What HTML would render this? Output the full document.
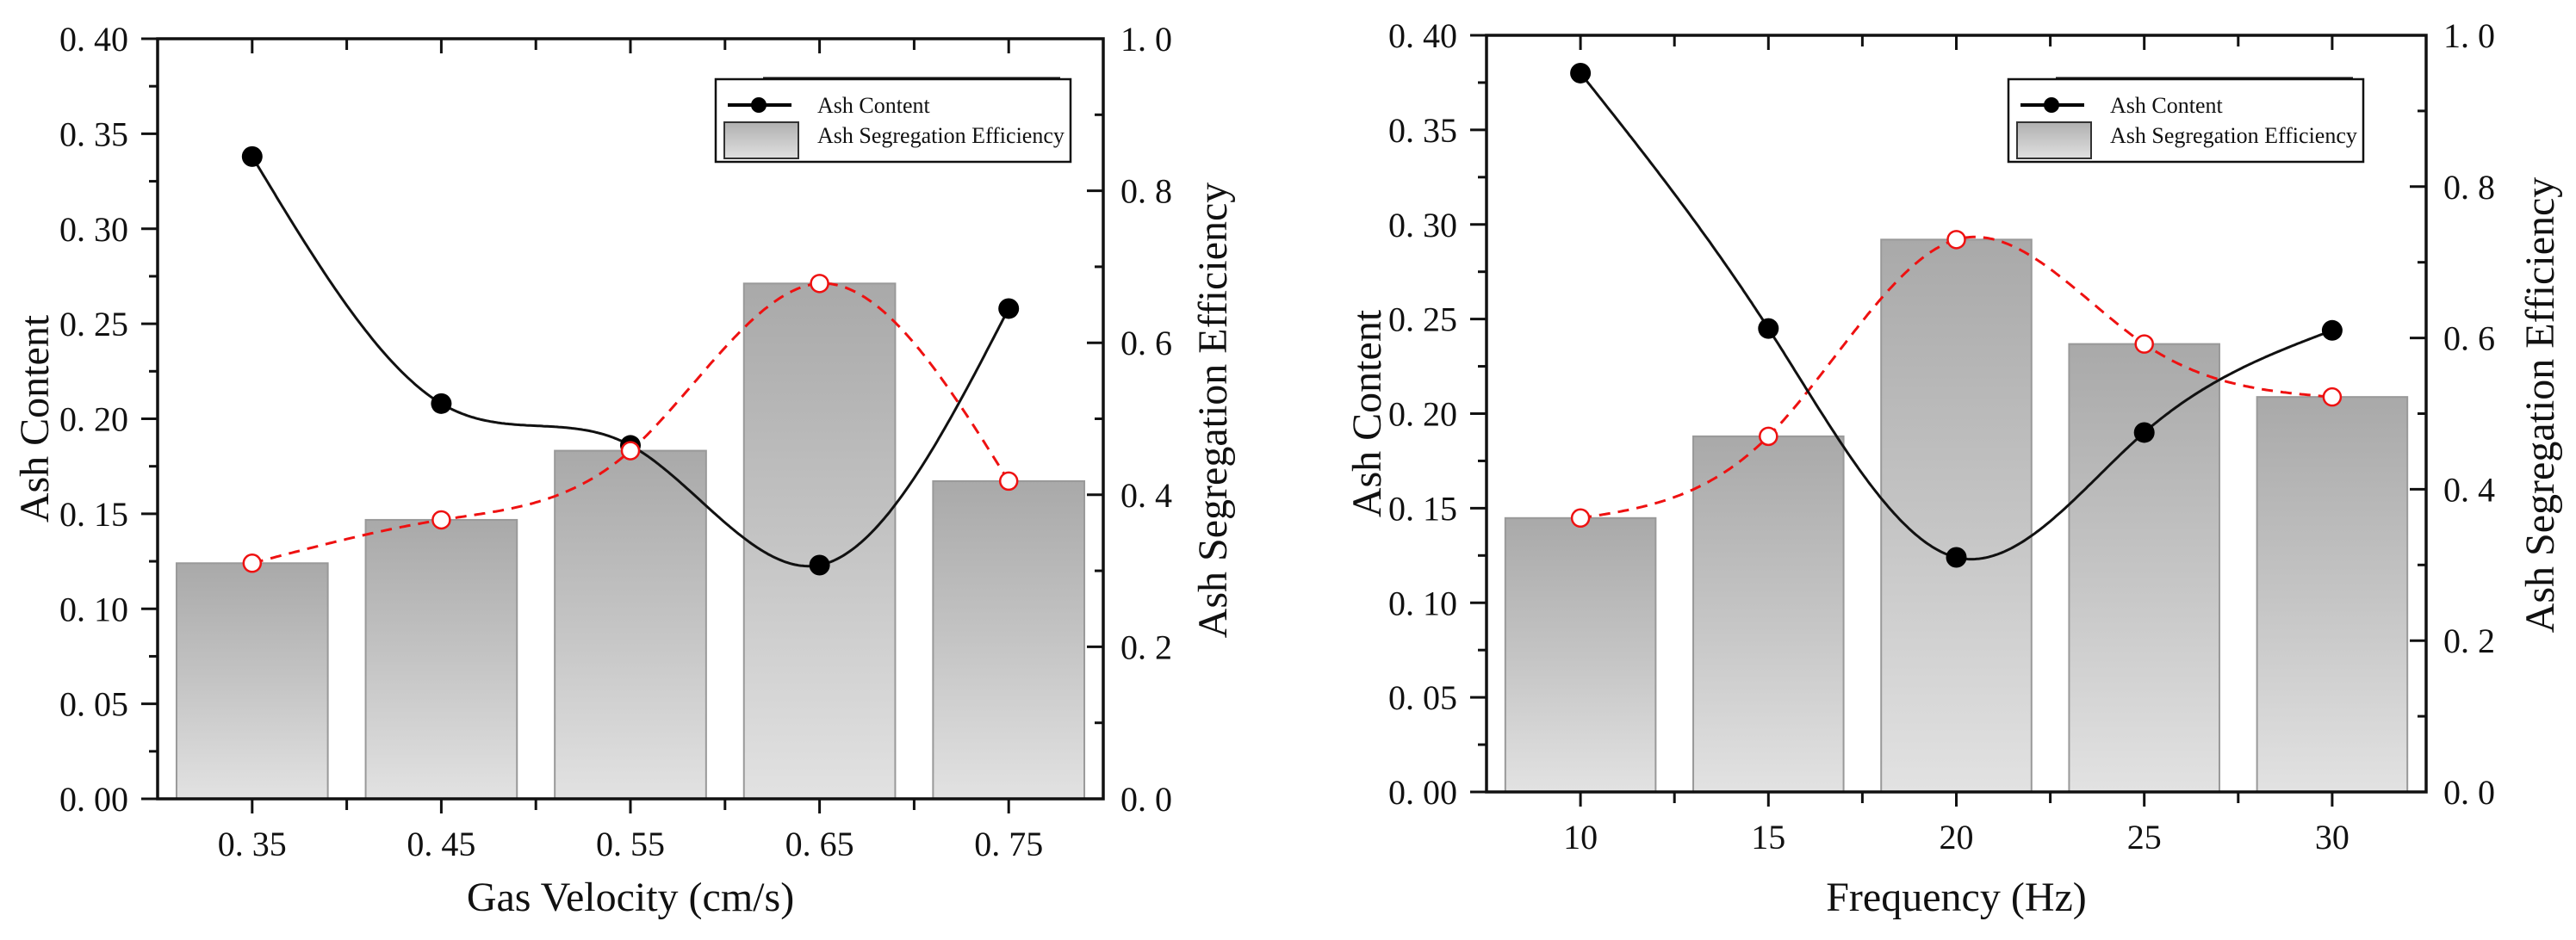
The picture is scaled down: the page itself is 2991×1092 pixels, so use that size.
<!DOCTYPE html>
<html><head><meta charset="utf-8">
<style>
html,body{margin:0;padding:0;background:#fff;}
svg{display:block;}
text{font-family:"Liberation Serif","Noto Serif CJK SC",serif;fill:#111;}
</style></head>
<body>
<svg id="chart" width="2991" height="1092" viewBox="0 0 2991 1092" xmlns="http://www.w3.org/2000/svg">
<defs>
<linearGradient id="barGrad" x1="0" y1="0" x2="0" y2="1">
<stop offset="0" stop-color="#a9a9a9"/><stop offset="0.5" stop-color="#c4c4c4"/><stop offset="1" stop-color="#e2e2e2"/>
</linearGradient>
<linearGradient id="legGrad" x1="0" y1="0" x2="0" y2="1">
<stop offset="0" stop-color="#b0b0b0"/><stop offset="1" stop-color="#e0e0e0"/>
</linearGradient>
</defs>
</svg>
<script>
// Left chart data
const velCategories = ["0. 35","0. 45","0. 55","0. 65","0. 75"];
const velAsh = [0.338, 0.208, 0.186, 0.123, 0.258];
const velEff = [0.31, 0.367, 0.458, 0.678, 0.418];
// Right chart data
const freqCategories = ["10","15","20","25","30"];
const freqAsh = [0.380, 0.245, 0.124, 0.190, 0.244];
const freqEff = [0.362, 0.47, 0.73, 0.592, 0.522];
// Tick labels
const leftTicks = ["0. 00","0. 05","0. 10","0. 15","0. 20","0. 25","0. 30","0. 35","0. 40"];
const rightTicks = ["0. 0","0. 2","0. 4","0. 6","0. 8","1. 0"];

const svg = document.getElementById('chart');
const NS = 'http://www.w3.org/2000/svg';
function mk(tag, attrs, parent){
  const e = document.createElementNS(NS, tag);
  for (const k in attrs) e.setAttribute(k, attrs[k]);
  (parent||svg).appendChild(e);
  return e;
}
function spline(xs, ys){
  const n = xs.length, h=[], a=[], l=[1], mu=[0], z=[0], c=new Array(n).fill(0), b=[], d=[];
  for(let i=0;i<n-1;i++) h.push(xs[i+1]-xs[i]);
  for(let i=1;i<n-1;i++) a[i]=3/h[i]*(ys[i+1]-ys[i])-3/h[i-1]*(ys[i]-ys[i-1]);
  for(let i=1;i<n-1;i++){ l[i]=2*(xs[i+1]-xs[i-1])-h[i-1]*mu[i-1]; mu[i]=h[i]/l[i]; z[i]=(a[i]-h[i-1]*z[i-1])/l[i]; }
  z[n-1]=0;
  for(let j=n-2;j>=0;j--){ c[j]=z[j]-mu[j]*c[j+1]; b[j]=(ys[j+1]-ys[j])/h[j]-h[j]*(c[j+1]+2*c[j])/3; d[j]=(c[j+1]-c[j])/(3*h[j]); }
  return function(x){ let i=Math.min(n-2, Math.max(0, Math.floor(x - xs[0]))); const dx=x-xs[i]; return ys[i]+b[i]*dx+c[i]*dx*dx+d[i]*dx*dx*dx; };
}

function drawPlot(cfg){
  const g = mk('g', {});
  
  
  const L=cfg.L, R=cfg.R, T=cfg.T, B=cfg.B, n=cfg.cats.length, slot=(R-L)/n;
  const xPos = i => L + slot*(i+0.5);
  const yL = v => B - v/0.4*(B-T);
  const yR = v => B - v/1.0*(B-T);
  cfg.eff.forEach((v,i)=>{
    const w=slot*0.8;
    const r = mk('rect', {x:xPos(i)-w/2, y:yR(v), width:w, height:B-yR(v), fill:'url(#barGrad)', stroke:'#999', 'stroke-width':2}, g);
    
    
  });
  const ax = mk('path', {d:`M${L} ${T}H${R}V${B}H${L}Z`, fill:'none', stroke:'#111', 'stroke-width':3.5}, g);
  
  
  for(let k=0;k<=2*n;k++){
    const x=L+slot*k/2;
    if(k%2===1){ mk('line',{x1:x,y1:B,x2:x,y2:B+17,stroke:'#111','stroke-width':3},g); mk('line',{x1:x,y1:T,x2:x,y2:T+17,stroke:'#111','stroke-width':3},g); }
    else if(k>0&&k<2*n){ mk('line',{x1:x,y1:B,x2:x,y2:B+13,stroke:'#111','stroke-width':3},g); mk('line',{x1:x,y1:T,x2:x,y2:T+13,stroke:'#111','stroke-width':3},g); }
  }
  cfg.cats.forEach((c,i)=>{
    const t=mk('text',{x:xPos(i), y:B+66, 'text-anchor':'middle','font-size':40},g); t.textContent=c;
    
    
  });
  for(let k=0;k<=16;k++){
    const y=B-(B-T)*k/16, len = k%2===0?19:10;
    mk('line',{x1:L-len,y1:y,x2:L,y2:y,stroke:'#111','stroke-width':3},g);
  }
  leftTicks.forEach((s,k)=>{
    const t=mk('text',{x:L-34, y:yL(k*0.05)+14,'text-anchor':'end','font-size':40},g); t.textContent=s;
    
    
  });
  for(let k=0;k<=10;k++){
    const y=B-(B-T)*k/10, len=k%2===0?19:10;
    mk('line',{x1:R-len,y1:y,x2:R,y2:y,stroke:'#111','stroke-width':3},g);
  }
  rightTicks.forEach((s,k)=>{
    const t=mk('text',{x:R+20, y:yR(k*0.2)+14,'font-size':40},g); t.textContent=s;
    
    
  });
  const xs=cfg.cats.map((_,i)=>i);
  const fA=spline(xs,cfg.ash), fE=spline(xs,cfg.eff);
  let dA='', dE='';
  for(let s=0;s<=400;s++){
    const u=s/400*(n-1), x=L+slot*(u+0.5);
    dA+=(s?'L':'M')+x.toFixed(1)+' '+yL(fA(u)).toFixed(1);
    dE+=(s?'L':'M')+x.toFixed(1)+' '+yR(fE(u)).toFixed(1);
  }
  const pe=mk('path',{d:dE,fill:'none',stroke:'#ee1111','stroke-width':3,'stroke-dasharray':'13 9'},g);
  
  
  const pa=mk('path',{d:dA,fill:'none',stroke:'#111','stroke-width':3},g);
  
  
  cfg.ash.forEach((v,i)=>{
    const c=mk('circle',{cx:xPos(i),cy:yL(v),r:12,fill:'#000'},g);
    
    
  });
  cfg.eff.forEach((v,i)=>{
    const c=mk('circle',{cx:xPos(i),cy:yR(v),r:10,fill:'#fff',stroke:'#ee1111','stroke-width':2.5},g);
    
    
  });
  const xt=mk('text',{x:(L+R)/2, y:1058,'text-anchor':'middle','font-size':48},g); xt.textContent=cfg.xTitle;
  
  
  const lt=mk('text',{x:0,y:0,'text-anchor':'middle','font-size':48,transform:`translate(${cfg.ltx},${(T+B)/2}) rotate(-90)`},g); lt.textContent='Ash Content';
  
  
  const rt=mk('text',{x:0,y:0,'text-anchor':'middle','font-size':48,transform:`translate(${cfg.rtx},${(T+B)/2-10}) rotate(-90)`},g); rt.textContent='Ash Segregation Efficiency';
  
  
  const lg=mk('g',{},g);
  
  
  const lx=cfg.legX, ly=92;
  mk('rect',{x:lx,y:ly,width:412,height:96,fill:'#fff',stroke:'#111','stroke-width':2.5},lg);
  mk('line',{x1:lx+55,y1:ly-1,x2:lx+400,y2:ly-1,stroke:'#111','stroke-width':3},lg);
  mk('line',{x1:lx+14,y1:ly+30,x2:lx+88,y2:ly+30,stroke:'#000','stroke-width':4},lg);
  mk('circle',{cx:lx+50,cy:ly+30,r:9,fill:'#000'},lg);
  mk('rect',{x:lx+10,y:ly+50,width:86,height:42,fill:'url(#legGrad)',stroke:'#333','stroke-width':2},lg);
  const t1=mk('text',{x:lx+118,y:ly+39,'font-size':26},lg); t1.textContent='Ash Content';
  
  
  const t2=mk('text',{x:lx+118,y:ly+74,'font-size':26},lg); t2.textContent='Ash Segregation Efficiency';
  
  
}

drawPlot({name:'gas-velocity-chart',L:183,R:1281,T:45,B:928,cats:velCategories,ash:velAsh,eff:velEff,xTitle:'Gas Velocity (cm/s)',ltx:56,rtx:1424,legX:831});
drawPlot({name:'frequency-chart',L:1726,R:2817,T:41,B:920,cats:freqCategories,ash:freqAsh,eff:freqEff,xTitle:'Frequency (Hz)',ltx:1603,rtx:2965,legX:2332});
</script>
</body></html>
